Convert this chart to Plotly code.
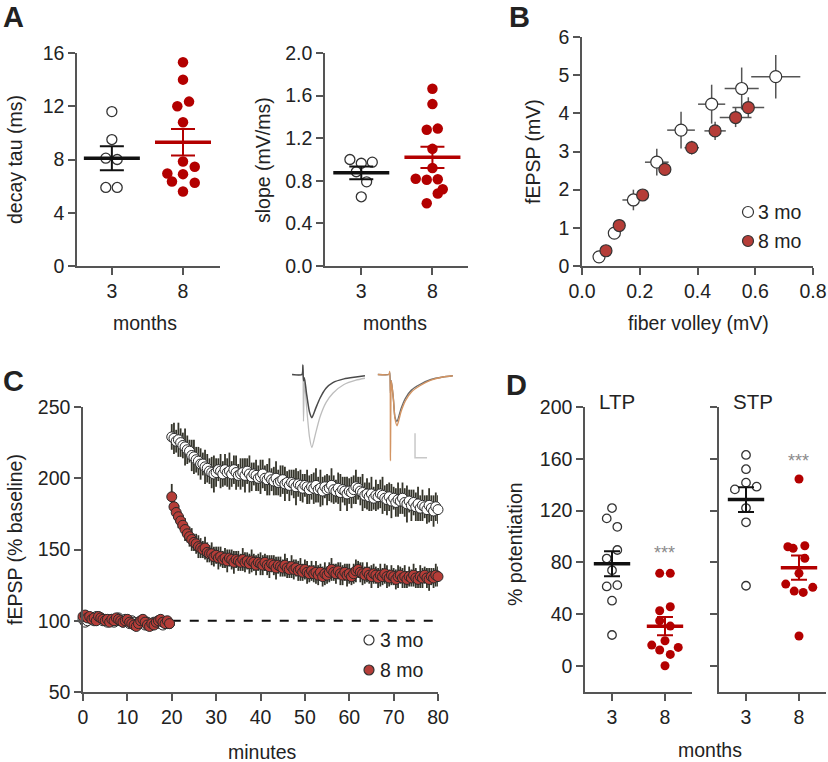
import plotly.graph_objects as go

W, H = 828, 762
FONT = "Liberation Sans, Arial, sans-serif"
TXT = "#222222"
AX = "#555555"
RED = "#b30000"
BRICK = "#b53d38"
DARKERR = "#34342a"

# ---------------- DATA ----------------
months = ["3", "8"]

# Panel A (left): decay tau (ms)
tau_3mo = [11.6, 9.5, 8.1, 8.0, 5.9, 5.9]
tau_8mo = [15.3, 14.0, 12.35, 12.0, 10.8, 7.85, 7.45, 6.95, 6.9, 6.35, 6.25, 5.6]
tau_mean = [8.1, 9.3]
tau_sem = [0.9, 1.0]

# Panel A (right): slope (mV/ms)
slope_3mo = [1.0, 0.965, 0.975, 0.885, 0.79, 0.65]
slope_8mo = [1.665, 1.52, 1.28, 1.29, 1.10, 0.92, 0.82, 0.81, 0.815, 0.72, 0.68, 0.59]
slope_mean = [0.875, 1.02]
slope_sem = [0.06, 0.10]

# Panel B: input-output
fv_3mo = [0.059, 0.112, 0.178, 0.259, 0.343, 0.449, 0.553, 0.671]
fepsp_3mo = [0.24, 0.86, 1.73, 2.72, 3.56, 4.24, 4.65, 4.96]
fv_3mo_err = [0.01, 0.015, 0.038, 0.041, 0.048, 0.047, 0.059, 0.085]
fepsp_3mo_err = [0.05, 0.10, 0.27, 0.35, 0.48, 0.51, 0.55, 0.57]
fv_8mo = [0.083, 0.129, 0.21, 0.287, 0.38, 0.461, 0.532, 0.576]
fepsp_8mo = [0.40, 1.06, 1.86, 2.53, 3.10, 3.54, 3.89, 4.15]
fv_8mo_err = [0.01, 0.012, 0.015, 0.02, 0.025, 0.037, 0.055, 0.055]
fepsp_8mo_err = [0.05, 0.08, 0.10, 0.15, 0.18, 0.24, 0.25, 0.27]

# Panel C: time course (% baseline), samples every 0.5 min
base_3mo = [101, 99, 100, 102, 101, 100, 103, 101, 102, 100,
            101, 99, 100, 101, 99, 100, 102, 100, 99, 101,
            100, 98, 100, 99, 97, 99, 98, 100, 97, 99,
            98, 97, 99, 98, 100, 98, 97, 99, 98, 98]
base_8mo = [103, 104, 102, 103, 101, 102, 100, 103, 102, 101,
            100, 101, 99, 101, 100, 102, 101, 100, 99, 100,
            101, 99, 98, 97, 96, 98, 100, 101, 99, 97,
            96, 98, 97, 99, 100, 101, 99, 98, 100, 98]
post_3mo = [229, 228, 226, 227, 225, 223, 222, 220, 219, 216,
            215, 213, 212, 210, 210, 208, 207, 205, 204, 203,
            204, 206, 205, 203, 206, 204, 205, 203, 206, 204,
            202, 203, 204, 202, 205, 203, 201, 203, 202, 200,
            201, 203, 200, 199, 201, 199, 198, 200, 197, 198,
            199, 196, 197, 195, 197, 196, 194, 196, 195, 193,
            195, 194, 192, 194, 193, 195, 192, 193, 191, 194,
            192, 193, 195, 192, 191, 193, 190, 192, 191, 189,
            191, 190, 192, 194, 193, 191, 190, 188, 189, 187,
            189, 186, 188, 187, 189, 188, 186, 185, 187, 184,
            186, 183, 185, 184, 186, 183, 182, 184, 181, 183,
            180, 182, 179, 181, 180, 178, 181, 179, 177, 180,
            178]
post_8mo = [187, 180, 176, 173, 170, 167, 164, 161, 159, 157,
            155, 154, 152, 151, 150, 151, 148, 147, 147, 145,
            146, 144, 145, 143, 144, 142, 144, 143, 141, 143,
            142, 141, 143, 141, 142, 140, 142, 141, 139, 141,
            140, 139, 141, 139, 138, 140, 139, 137, 139, 138,
            137, 139, 137, 136, 138, 136, 137, 135, 136, 134,
            136, 134, 133, 135, 133, 134, 132, 134, 131, 133,
            132, 134, 136, 134, 133, 135, 133, 132, 134, 132,
            133, 131, 133, 135, 136, 134, 133, 132, 134, 132,
            131, 133, 132, 130, 132, 131, 133, 131, 130, 132,
            131, 129, 131, 132, 130, 131, 129, 131, 130, 132,
            130, 129, 131, 130, 132, 130, 129, 131, 130, 132,
            131]
sem_base = 2.5
sem_post_3mo = [9, 11, 8, 12, 10, 9, 13, 10, 8, 11,
                12, 9, 10, 11, 8, 12, 10, 9, 11, 13,
                10, 8, 12, 9, 11, 10, 13, 9, 10, 12,
                8, 11, 10, 12, 9, 13, 10, 8, 11, 9,
                12, 10, 9, 11, 13, 8, 10, 12, 9, 11,
                10, 12, 8, 11, 9, 10, 13, 9, 11, 10,
                8, 12, 10, 9, 11, 12, 9, 13, 10, 8,
                11, 9, 12, 10, 8, 11, 13, 9, 10, 12,
                9, 11, 10, 12, 8, 10, 13, 9, 11, 10,
                12, 8, 11, 9, 10, 13, 9, 11, 10, 12,
                8, 10, 12, 9, 11, 10, 13, 8, 11, 9,
                10, 12, 9, 11, 8, 10, 12, 9, 11, 10,
                10]
sem_post_8mo = [9, 8, 7, 8, 6, 7, 8, 6, 7, 8,
                6, 7, 8, 7, 6, 8, 7, 6, 8, 7,
                6, 8, 7, 6, 7, 8, 6, 7, 8, 6,
                7, 6, 8, 7, 6, 7, 8, 6, 7, 6,
                8, 7, 6, 7, 8, 6, 7, 8, 6, 7,
                6, 8, 7, 6, 8, 7, 6, 7, 8, 6,
                7, 8, 6, 7, 6, 8, 7, 6, 7, 8,
                6, 7, 8, 6, 7, 6, 8, 7, 6, 8,
                7, 6, 7, 8, 6, 7, 8, 6, 7, 6,
                8, 7, 6, 7, 8, 6, 7, 8, 6, 7,
                6, 7, 8, 6, 7, 8, 6, 7, 6, 8,
                7, 6, 8, 7, 6, 7, 8, 6, 7, 8,
                7]
baseline_level = 100
sample_step = 0.5
post_start = 20

# Panel C inset: example fEPSP traces (ms, mV)
ex1_t = [0.7, 4.0, 4.3, 4.5, 4.8, 5.5, 6.5, 7.3, 8.5, 10, 12, 14.3, 18, 22, 25]
ex1_dark = [0, 0, 0.15, -0.10, -0.05, -0.30, -0.60, -0.69, -0.55, -0.38, -0.22, -0.13, -0.07, -0.04, -0.02]
ex1_light = [0, 0, 0.16, -0.75, -0.10, -0.50, -1.00, -1.17, -0.95, -0.68, -0.45, -0.30, -0.16, -0.09, -0.06]
ex2_t = [29.3, 33.0, 33.3, 33.5, 33.8, 34.5, 35.0, 35.7, 37, 38.5, 40.5, 43.3, 47, 51, 54.3]
ex2_orange = [0, 0, 0.05, -1.38, -0.10, -0.40, -0.70, -0.82, -0.60, -0.42, -0.28, -0.18, -0.09, -0.04, -0.02]
ex2_dark = [0, 0, 0.03, -0.30, -0.10, -0.40, -0.68, -0.75, -0.55, -0.38, -0.25, -0.16, -0.08, -0.04, -0.02]
scalebar_t = [41.7, 41.7, 45.7]
scalebar_v = [-0.94, -1.33, -1.33]

# Panel D: % potentiation
ltp_3mo = [122, 114, 107.5, 89.6, 83, 74, 61.5, 62.5, 50.5, 24]
ltp_8mo = [71.6, 71.6, 42.7, 45.8, 35, 30.9, 19.6, 16.2, 12.4, 14.4, 9, 0.3]
ltp_mean = [79, 30.8]
ltp_sem = [9.7, 7.0]
stp_3mo = [163, 152, 141.6, 136.4, 138.5, 122, 111, 62]
stp_8mo = [144.4, 92.1, 90.9, 92.9, 83.2, 71.6, 63.3, 57.9, 56.9, 60.8, 23.2]
stp_mean = [128.5, 76]
stp_sem = [9.6, 9.4]
sig_label = "***"
sig_ltp_y = 87
sig_stp_y = 158

# horizontal scatter (jitter) of points within each group, in category units
jit_tau_3 = [0, 0, -0.085, 0.075, -0.085, 0.075]
jit_tau_8 = [0, 0, 0.085, -0.08, 0, 0, 0.165, -0.22, 0, -0.155, 0.165, 0]
jit_slope_3 = [-0.16, 0, 0.155, -0.07, 0.075, 0]
jit_slope_8 = [0, 0, -0.08, 0.075, 0, 0, -0.235, -0.08, 0.075, 0.145, 0.075, -0.08]
jit_ltp_3 = [0, -0.1, 0.1, 0.1, -0.1, 0, -0.1, 0.1, 0, 0]
jit_ltp_8 = [-0.1, 0.1, -0.1, 0.1, -0.1, 0.1, 0, -0.25, -0.1, 0.25, 0.1, 0]
jit_stp_3 = [0, 0, 0, -0.21, 0.2, 0, 0, 0]
jit_stp_8 = [0, -0.21, -0.11, 0.11, 0.11, 0, -0.25, -0.09, 0.08, 0.26, 0]

# ---------------- FIGURE ----------------
def fx(px):
    return px / W

def fy(py):
    return 1 - py / H

def dx(a, b):
    return [fx(a), fx(b)]

def dy(top, bottom):
    return [fy(bottom), fy(top)]

fig = go.Figure()

def add_dots(vals, jit, cat, xa, ya, filled, size):
    fig.add_trace(go.Scatter(
        x=[cat + j for j in jit], y=vals, mode="markers", xaxis=xa, yaxis=ya,
        cliponaxis=False, hoverinfo="skip",
        marker=dict(size=size, color=RED if filled else "white",
                    line=dict(color=RED if filled else "#333333", width=0 if filled else 1.3))))

def add_mean(mean, sem, cat, xa, ya, color, size, cap):
    # 'line-ew' marker spans 1.4 * size pixels
    fig.add_trace(go.Scatter(
        x=[cat], y=[mean], mode="markers", xaxis=xa, yaxis=ya, cliponaxis=False,
        marker=dict(symbol="line-ew", size=size, color=color, line=dict(color=color, width=3.5)),
        error_y=dict(type="data", array=[sem], color=color, thickness=2, width=cap)))

# Panel A left
add_dots(tau_3mo, jit_tau_3, 0, "x", "y", False, 10)
add_dots(tau_8mo, jit_tau_8, 1, "x", "y", True, 10.5)
add_mean(tau_mean[0], tau_sem[0], 0, "x", "y", "#111111", 40, 12)
add_mean(tau_mean[1], tau_sem[1], 1, "x", "y", RED, 40, 12)
# Panel A right
add_dots(slope_3mo, jit_slope_3, 0, "x2", "y2", False, 10)
add_dots(slope_8mo, jit_slope_8, 1, "x2", "y2", True, 10.5)
add_mean(slope_mean[0], slope_sem[0], 0, "x2", "y2", "#111111", 40, 12)
add_mean(slope_mean[1], slope_sem[1], 1, "x2", "y2", RED, 40, 12)

# Panel B
for fv, fe, fverr, feerr, fill in [(fv_3mo, fepsp_3mo, fv_3mo_err, fepsp_3mo_err, "white"),
                                   (fv_8mo, fepsp_8mo, fv_8mo_err, fepsp_8mo_err, BRICK)]:
    fig.add_trace(go.Scatter(
        x=fv, y=fe, mode="markers", xaxis="x3", yaxis="y3", cliponaxis=False,
        marker=dict(size=12, color=fill, line=dict(color="#333333", width=1.2)),
        error_x=dict(type="data", array=fverr, color="#555555", thickness=1.5, width=0),
        error_y=dict(type="data", array=feerr, color="#555555", thickness=1.5, width=0)))

# Panel C
t_base = [sample_step * i for i in range(len(base_3mo))]
t_post = [post_start + sample_step * i for i in range(len(post_3mo))]
fig.add_trace(go.Scatter(x=[post_start, 80], y=[baseline_level, baseline_level], mode="lines",
                         xaxis="x4", yaxis="y4", line=dict(color="#111111", width=2, dash="dash")))
for vb, vp, sp, fill in [(base_3mo, post_3mo, sem_post_3mo, "white"),
                         (base_8mo, post_8mo, sem_post_8mo, BRICK)]:
    fig.add_trace(go.Scatter(
        x=t_base + t_post, y=vb + vp, mode="markers", xaxis="x4", yaxis="y4", cliponaxis=False,
        marker=dict(size=10, color=fill, line=dict(color="#2a2a2a", width=1)),
        error_y=dict(type="data", array=[sem_base] * len(vb) + sp,
                     color=DARKERR, thickness=1.8, width=0)))

# Panel C inset traces
fig.add_trace(go.Scatter(x=ex1_t, y=ex1_light, mode="lines", xaxis="x7", yaxis="y7",
                         line=dict(color="#bdbdbd", width=1.3, shape="spline", smoothing=0.6)))
fig.add_trace(go.Scatter(x=ex1_t, y=ex1_dark, mode="lines", xaxis="x7", yaxis="y7",
                         line=dict(color="#4a4a4a", width=1.5, shape="spline", smoothing=0.6)))
fig.add_trace(go.Scatter(x=ex2_t, y=ex2_dark, mode="lines", xaxis="x7", yaxis="y7",
                         line=dict(color="#6a6a6a", width=1.4, shape="spline", smoothing=0.6)))
fig.add_trace(go.Scatter(x=ex2_t, y=ex2_orange, mode="lines", xaxis="x7", yaxis="y7",
                         line=dict(color="#d39462", width=1.4, shape="spline", smoothing=0.6)))
fig.add_trace(go.Scatter(x=scalebar_t, y=scalebar_v, mode="lines", xaxis="x7", yaxis="y7",
                         line=dict(color="#c8c8c8", width=1.5)))

# Panel D
add_dots(ltp_3mo, jit_ltp_3, 0, "x5", "y5", False, 8.5)
add_dots(ltp_8mo, jit_ltp_8, 1, "x5", "y5", True, 9)
add_mean(ltp_mean[0], ltp_sem[0], 0, "x5", "y5", "#111111", 26, 8)
add_mean(ltp_mean[1], ltp_sem[1], 1, "x5", "y5", RED, 26, 8)
add_dots(stp_3mo, jit_stp_3, 0, "x6", "y6", False, 8.5)
add_dots(stp_8mo, jit_stp_8, 1, "x6", "y6", True, 9)
add_mean(stp_mean[0], stp_sem[0], 0, "x6", "y6", "#111111", 26, 8)
add_mean(stp_mean[1], stp_sem[1], 1, "x6", "y6", RED, 26, 8)

# ---------------- AXES ----------------
TICKFONT = dict(family=FONT, size=19.5, color=TXT)

def axis(**kw):
    d = dict(showline=True, linecolor=AX, linewidth=1.5, ticks="outside", ticklen=7,
             tickwidth=1.5, tickcolor=AX, showgrid=False, zeroline=False, tickfont=TICKFONT,
             fixedrange=True, automargin=False)
    d.update(kw)
    return d

cat_axis = dict(tickvals=[0, 1], ticktext=months)
fig.update_layout(
    xaxis=axis(domain=dx(77, 220), range=[-0.49, 1.52], anchor="y", **cat_axis),
    yaxis=axis(domain=dy(53, 266), range=[0, 16], tickvals=[0, 4, 8, 12, 16], anchor="x"),
    xaxis2=axis(domain=dx(325, 468), range=[-0.51, 1.5], anchor="y2", **cat_axis),
    yaxis2=axis(domain=dy(53, 266), range=[0, 2], tickvals=[0, 0.4, 0.8, 1.2, 1.6, 2.0],
                tickformat=".1f", anchor="x2"),
    xaxis3=axis(domain=dx(582, 813), range=[0, 0.8], tickvals=[0, 0.2, 0.4, 0.6, 0.8],
                tickformat=".1f", anchor="y3"),
    yaxis3=axis(domain=dy(37, 266), range=[0, 6], dtick=1, anchor="x3"),
    xaxis4=axis(domain=dx(83, 438), range=[0, 80], dtick=10, anchor="y4"),
    yaxis4=axis(domain=dy(407, 692), range=[50, 250], dtick=50, anchor="x4"),
    xaxis5=axis(domain=dx(585, 692), range=[-0.51, 1.51], anchor="y5", **cat_axis),
    yaxis5=axis(domain=dy(407, 692), range=[-20, 200], tickvals=[0, 40, 80, 120, 160, 200], anchor="x5"),
    xaxis6=axis(domain=dx(719, 826), range=[-0.51, 1.51], anchor="y6", **cat_axis),
    yaxis6=axis(domain=dy(407, 692), range=[-20, 200], tickvals=[0, 40, 80, 120, 160, 200],
                showticklabels=False, anchor="x6"),
    xaxis7=dict(domain=dx(290, 460), range=[0, 56.7], visible=False, anchor="y7", fixedrange=True),
    yaxis7=dict(domain=dy(362, 462), range=[-1.4, 0.2], visible=False, anchor="x7", fixedrange=True),
)

# ---------------- TEXT ----------------
ann = []

def text(s, px, py, size=19.5, angle=0, bold=False, color=TXT, xanchor="center"):
    ann.append(dict(text=f"<b>{s}</b>" if bold else s, x=fx(px), y=fy(py), xref="paper",
                    yref="paper", showarrow=False, textangle=angle, xanchor=xanchor,
                    yanchor="middle", font=dict(family=FONT, size=size, color=color)))

text("A", 14, 17, size=29, bold=True)
text("B", 519, 17, size=29, bold=True)
text("C", 13, 381, size=29, bold=True)
text("D", 516, 385, size=29, bold=True)
text("decay tau (ms)", 15, 160, angle=-90)
text("slope (mV/ms)", 263, 160, angle=-90)
text("months", 145, 323)
text("months", 395, 323)
text("fEPSP (mV)", 533, 152, angle=-90)
text("fiber volley (mV)", 698, 323)
text("fEPSP (% baseline)", 15, 540, angle=-90)
text("minutes", 262, 752)
text("% potentiation", 515, 544, angle=-90)
text("months", 710, 750)
text("LTP", 617, 402, size=20.5)
text("STP", 753, 402, size=20.5)
text("3 mo", 756, 212, xanchor="left")
text("8 mo", 756, 241, xanchor="left")
text("3 mo", 378, 640, xanchor="left")
text("8 mo", 378, 670, xanchor="left")
ann.append(dict(text=sig_label, x=1, y=sig_ltp_y, xref="x5", yref="y5", showarrow=False,
                font=dict(family=FONT, size=18, color="#8a8a8a")))
ann.append(dict(text=sig_label, x=1, y=sig_stp_y, xref="x6", yref="y6", showarrow=False,
                font=dict(family=FONT, size=18, color="#8a8a8a")))

shapes = []
for cx, cy, fill, r in [(748, 212, "white", 5.5), (748, 241, BRICK, 5.5),
                        (369, 640, "white", 5), (369, 670, BRICK, 5)]:
    shapes.append(dict(type="circle", xref="paper", yref="paper", xsizemode="pixel",
                       ysizemode="pixel", xanchor=fx(cx), yanchor=fy(cy),
                       x0=-r, x1=r, y0=-r, y1=r, fillcolor=fill,
                       line=dict(color="#333333", width=1.2)))

fig.update_layout(width=W, height=H, margin=dict(l=0, r=0, t=0, b=0, pad=0, autoexpand=False),
                  paper_bgcolor="white", plot_bgcolor="white", showlegend=False,
                  annotations=ann, shapes=shapes, font=dict(family=FONT, color=TXT))

# remove the browser's default 8px body margin so the figure fills the window exactly
fig.write_html("out.html", config={"displayModeBar": False},
               post_script="document.body.style.margin='0';document.body.style.overflow='hidden';")
